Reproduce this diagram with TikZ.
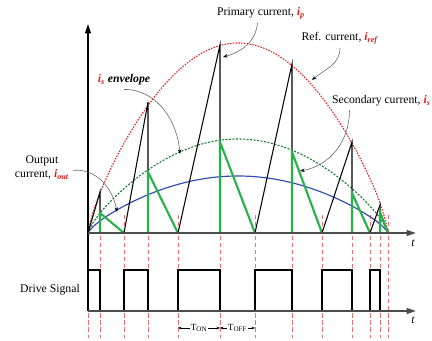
\documentclass[tikz,border=0pt]{standalone}
\usepackage{fontspec}
\setmainfont{Liberation Serif}
\usetikzlibrary{arrows.meta}
\definecolor{refred}{RGB}{228,28,28}
\definecolor{envgreen}{RGB}{20,125,45}
\definecolor{secgreen}{RGB}{38,178,72}
\definecolor{outblue}{RGB}{48,78,178}
\definecolor{swred}{RGB}{236,112,112}
\newcommand{\cur}[1]{\textcolor{refred}{\textbf{\textit{i}}\textsubscript{\textbf{\textit{#1}}}}}

\begin{document}
\begin{tikzpicture}[x=0.03cm,y=0.03cm,axis/.style={line width=1.4pt,draw=black!70,-{Triangle[length=8pt,width=5pt]}},note/.style={draw=black!60,line width=0.5pt,-{Stealth[length=4pt,width=3pt,black]}},env/.style={line width=0.9pt,dash pattern=on 1.3pt off 1.1pt},swline/.style={swred,line width=0.6pt,dash pattern=on 3.5pt off 2.5pt},dim/.style={{Stealth[length=3pt]}-{Stealth[length=3pt]},line width=0.5pt}]
\useasboundingbox (-88,-107) rectangle (344,233);
\foreach \t in {0,12,36,60,90,132,167,204,234,264,282,292,300}
  \draw[swline] (\t,18) -- (\t,-105);
\draw[env,refred] (0,0) -- plot[domain=0.001:0.999,samples=80] ({300*\x},{190*pow(sin(180*\x),0.75)}) -- (300,0);
\draw[env,envgreen,dash pattern=on 1.8pt off 1.2pt] (0,0) -- plot[domain=0.001:0.999,samples=80] ({300*\x},{94*pow(sin(180*\x),0.75)}) -- (300,0);
\draw[outblue,line width=1pt] (0,0) -- plot[domain=0.001:0.999,samples=80] ({300*\x},{57*pow(sin(180*\x),0.75)}) -- (300,0);
\foreach \a/\b/\c/\p/\s in {0/12/36/41/20,36/60/90/131/61,90/132/167/188/91,167/204/234/169/81,234/264/282/91/40,282/292/300/28/21}{
  \draw[line width=0.9pt] (\a,0) -- (\b,\p) -- (\b,0);
  \draw[secgreen,line width=1.8pt] (\b,0) -- (\b,\s) -- (\c,0);
}
\draw[line width=1.3pt] (0,-78) \foreach \a/\b/\c in {0/12/36,36/60/90,90/132/167,167/204/234,234/264/282,282/292/300}{ -- (\a,-37) -- (\b,-37) -- (\b,-78) -- (\c,-78)};
\draw[axis,draw=black] (0,-78) -- (0,209);
\draw[axis] (0,0) -- (328,0);
\draw[axis] (0,-78) -- (328,-78);
\node (ttop) at (325,-10) {\textit{t}};
\node (tbot) at (325,-87) {\textit{t}};
\coordinate (onstart) at (90,-95);
\coordinate (offstart) at (132,-95);
\coordinate (offend) at (167,-95);
\draw[dim] (onstart) -- (offstart) node[midway,fill=white,inner sep=1pt,font=\footnotesize] (ton) {T\textsubscript{ON}};
\draw[dim] (offstart) -- (offend) node[midway,fill=white,inner sep=1pt,font=\footnotesize] (toff) {T\textsubscript{OFF}};
\node (primary) at (173,220) {Primary current, \cur{p}};
\node (ref) at (252,195) {Ref. current, \cur{ref}};
\node[anchor=east,inner xsep=1pt] (secondary) at (344,132) {Secondary current, \cur{s}};
\node (envelope) at (36,153) {\cur{s} \textbf{\textit{envelope}}};
\node[align=center] (output) at (-46,65) {Output\\current, \cur{out}};
\node (drive) at (-38,-57) {Drive Signal};
\coordinate (pk) at (135,176);
\coordinate (rf) at (224,153);
\coordinate (sc) at (212,62);
\coordinate (ev) at (92,79);
\coordinate (ou) at (29,21);
\draw[note] ([xshift=-3pt]primary.south) to[out=-95,in=15] (pk);
\draw[note] (ref.south) to[out=-90,in=40] (rf);
\draw[note] ([xshift=16pt]secondary.south west) to[out=-90,in=10] (sc);
\draw[note] (envelope.south) to[out=0,in=95] (ev);
\draw[note] ([yshift=-2pt]output.east) to[out=5,in=100] (ou);
\end{tikzpicture}
\end{document}
